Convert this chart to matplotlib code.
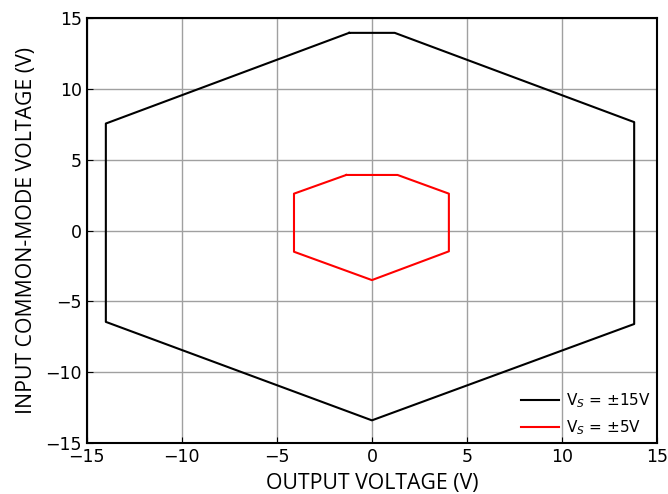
import matplotlib
matplotlib.use('Agg')
import matplotlib.pyplot as plt

# contour values
vs15_x = [-1.2, 1.2, 13.8, 13.8, 0.0, -14.0, -14.0, -1.2]
vs15_y = [13.95, 13.95, 7.65, -6.6, -13.4, -6.45, 7.55, 13.95]
vs5_x = [-1.35, 1.35, 4.05, 4.05, 0.0, -4.1, -4.1, -1.35]
vs5_y = [3.92, 3.92, 2.6, -1.47, -3.5, -1.5, 2.6, 3.92]
ticks = [-15, -10, -5, 0, 5, 10, 15]

fig = plt.figure(figsize=(6.68, 4.94), dpi=100)
ax = fig.add_axes([0.130, 0.1032, 0.8535, 0.8604])

ax.plot(vs15_x, vs15_y, color='black', lw=1.5, label='V$_S$ = ±15V')
ax.plot(vs5_x, vs5_y, color='red', lw=1.5, label='V$_S$ = ±5V')

ax.set_xlim(-15, 15)
ax.set_ylim(-15, 15)
ax.set_xticks(ticks)
ax.set_yticks(ticks)
ax.tick_params(direction='in', labelsize=12.5, length=4)
ax.grid(True, color='#a0a0a0', lw=1)
for s in ax.spines.values():
    s.set_linewidth(1.5)

ax.set_xlabel('OUTPUT VOLTAGE (V)', fontfamily='Open Sans', fontsize=15.3, labelpad=5)
ax.set_ylabel('INPUT COMMON-MODE VOLTAGE (V)', fontfamily='Open Sans', fontsize=15.3, labelpad=6)

ax.legend(loc='lower right', frameon=False, fontsize=11, handlelength=2.5,
          handletextpad=0.45, labelspacing=0.55, borderaxespad=0.0)

fig.savefig('out.png', dpi=100)
